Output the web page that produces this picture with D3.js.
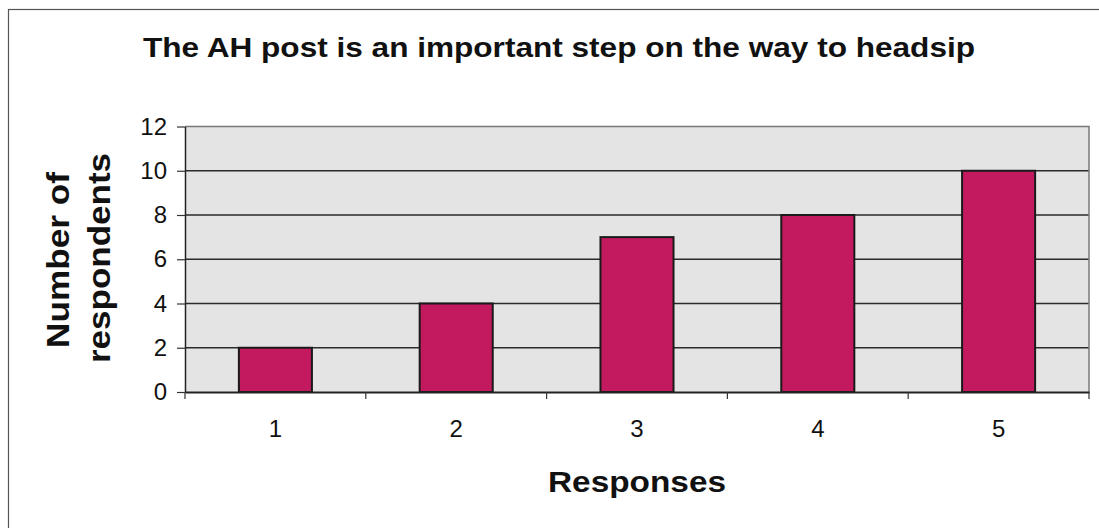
<!DOCTYPE html>
<html>
<head>
<meta charset="utf-8">
<script src="https://cdn.jsdelivr.net/npm/d3@7"></script>
<style>
  html, body { margin: 0; padding: 0; background: #ffffff; }
  svg { display: block; }
  text { font-family: "Liberation Sans", Arial, sans-serif; fill: #111; }
  .tick text { font-size: 24px !important; }
</style>
</head>
<body>
<svg id="chart" width="1099" height="528"></svg>
<script>
const categories = ["1", "2", "3", "4", "5"];
const values = [2, 4, 7, 8, 10];
const yTicks = [0, 2, 4, 6, 8, 10, 12];
const titleText = "The AH post is an important step on the way to headsip";
const yTitleLines = ["Number of", "respondents"];
const xTitleText = "Responses";

const svg = d3.select("#chart");
const plot = { left: 185, right: 1089, top: 126.5, bottom: 392 };

// outer frame (extends past right/bottom edges as in the scan)
svg.append("rect")
  .attr("x", 8.5).attr("y", 9.5)
  .attr("width", 1200).attr("height", 700)
  .attr("fill", "#fff").attr("stroke", "#555").attr("stroke-width", 1.2);

const y = d3.scaleLinear().domain([0, 12]).range([plot.bottom, plot.top]);
const xOuter = d3.scaleBand().domain(categories).range([plot.left, plot.right]).padding(0);
const x = d3.scaleBand().domain(categories).range([plot.left, plot.right])
  .paddingInner(0.596).paddingOuter(0.298);

// plot background
svg.append("rect")
  .attr("x", plot.left).attr("y", plot.top)
  .attr("width", plot.right - plot.left).attr("height", plot.bottom - plot.top)
  .attr("fill", "#e4e4e4");

// gridlines
svg.append("g").selectAll("line")
  .data(yTicks.filter(t => t > 0 && t < 12))
  .join("line")
  .attr("x1", plot.left).attr("x2", plot.right)
  .attr("y1", d => y(d)).attr("y2", d => y(d))
  .attr("stroke", "#2a2a2a").attr("stroke-width", 1.3);

// plot border top & right (gray)
svg.append("path")
  .attr("d", `M${plot.left},${plot.top}H${plot.right}V${plot.bottom}`)
  .attr("fill", "none").attr("stroke", "#7a7a7a").attr("stroke-width", 1.5);

// bars
svg.append("g").selectAll("rect")
  .data(values)
  .join("rect")
  .attr("x", (d, i) => x(categories[i]))
  .attr("y", d => y(d))
  .attr("width", x.bandwidth())
  .attr("height", d => y(0) - y(d))
  .attr("fill", "#c31a5f")
  .attr("stroke", "#1a1a1a").attr("stroke-width", 2);

// y axis
const yAxis = d3.axisLeft(y).tickValues(yTicks).tickSize(8).tickPadding(10).tickSizeOuter(0);
const gy = svg.append("g").attr("transform", `translate(${plot.left},0)`).call(yAxis);
gy.attr("font-size", 24);
gy.select(".domain").attr("stroke", "#222").attr("stroke-width", 1.5);
gy.selectAll(".tick line").attr("stroke", "#333").attr("stroke-width", 1.2);
gy.selectAll(".tick text").attr("fill", "#111")
  .style("font-family", "'Liberation Sans', Arial, sans-serif");

// x axis: labels at band centres, ticks at band boundaries
const xAxis = d3.axisBottom(xOuter).tickSize(0).tickPadding(28).tickSizeOuter(0);
const gx = svg.append("g").attr("transform", `translate(0,${plot.bottom})`).call(xAxis);
gx.attr("font-size", 24);
gx.select(".domain").attr("stroke", "#222").attr("stroke-width", 1.8);
gx.selectAll(".tick text").attr("fill", "#111")
  .style("font-family", "'Liberation Sans', Arial, sans-serif");
const bounds = categories.map(c => xOuter(c)).concat([xOuter.range()[1]]);
gx.selectAll(".bound").data(bounds).join("line").attr("class", "bound")
  .attr("x1", d => d).attr("x2", d => d)
  .attr("y1", 0).attr("y2", 7)
  .attr("stroke", "#333").attr("stroke-width", 1.2);

// title
svg.append("text")
  .attr("x", 143).attr("y", 57)
  .attr("textLength", 832).attr("lengthAdjust", "spacingAndGlyphs")
  .style("font-size", "28px").style("font-weight", "bold")
  .text(titleText);

// x title
svg.append("text")
  .attr("x", 548).attr("y", 492)
  .attr("textLength", 178).attr("lengthAdjust", "spacingAndGlyphs")
  .style("font-size", "30px").style("font-weight", "bold")
  .text(xTitleText);

// y title (two rotated lines)
const yTitleG = svg.append("g");
yTitleG.append("text")
  .attr("transform", "translate(69,348) rotate(-90)")
  .attr("textLength", 176).attr("lengthAdjust", "spacingAndGlyphs")
  .style("font-size", "31px").style("font-weight", "bold")
  .text(yTitleLines[0]);
yTitleG.append("text")
  .attr("transform", "translate(110,363) rotate(-90)")
  .attr("textLength", 210).attr("lengthAdjust", "spacingAndGlyphs")
  .style("font-size", "31px").style("font-weight", "bold")
  .text(yTitleLines[1]);
</script>
</body>
</html>
